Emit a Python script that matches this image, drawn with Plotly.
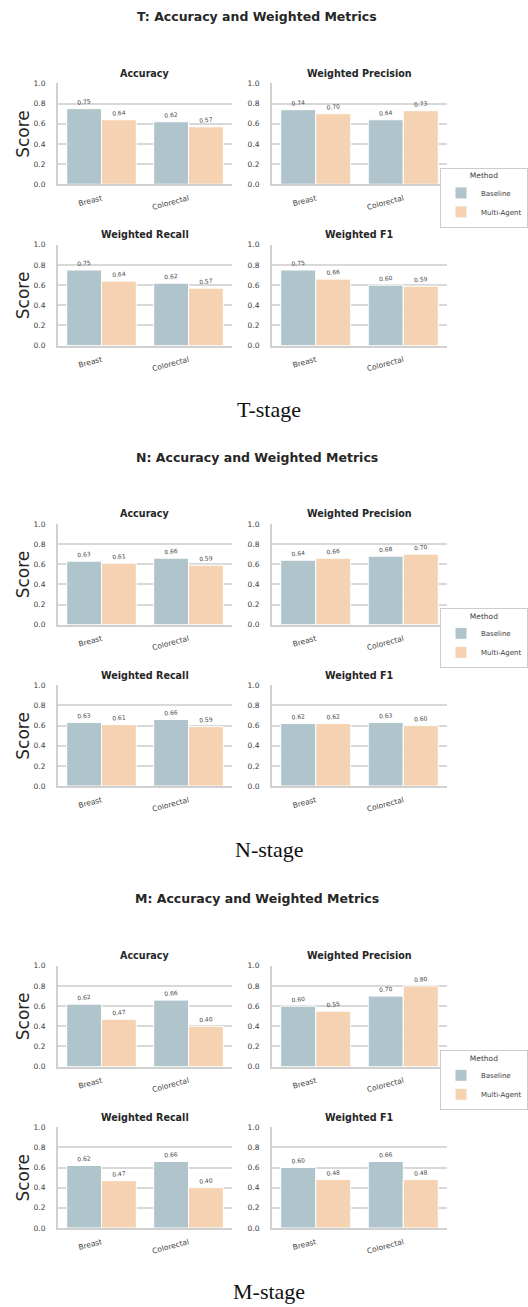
import plotly.graph_objects as go

# ---------------- data ----------------
stages = ["T", "N", "M"]
stage_labels = ["T-stage", "N-stage", "M-stage"]
metrics = ["Accuracy", "Weighted Precision", "Weighted Recall", "Weighted F1"]
cancers = ["Breast", "Colorectal"]
methods = ["Baseline", "Multi-Agent"]

# values per metric (Accuracy, W-Precision, W-Recall, W-F1), each [Breast, Colorectal]
T_baseline = [[0.75, 0.62], [0.74, 0.64], [0.75, 0.62], [0.75, 0.60]]
T_multi = [[0.64, 0.57], [0.70, 0.73], [0.64, 0.57], [0.66, 0.59]]
N_baseline = [[0.63, 0.66], [0.64, 0.68], [0.63, 0.66], [0.62, 0.63]]
N_multi = [[0.61, 0.59], [0.66, 0.70], [0.61, 0.59], [0.62, 0.60]]
M_baseline = [[0.62, 0.66], [0.60, 0.70], [0.62, 0.66], [0.60, 0.66]]
M_multi = [[0.47, 0.40], [0.55, 0.80], [0.47, 0.40], [0.48, 0.48]]

y_ticks = [0.0, 0.2, 0.4, 0.6, 0.8, 1.0]

# ---------------- styling ----------------
W, H = 528, 1307
colors = {"Baseline": "#B0C4CB", "Multi-Agent": "#F5D2B2"}
SANS = "DejaVu Sans"
TXT = "#3c3c3c"
GRID = "#d8d8d8"
AXLINE = "#d0d0d0"

section_offset = [0, 443.5, 888.5]
row_top = [80, 242.5]
plot_h = 101.5
col_x = [(58, 232), (272, 447)]

data_by_stage = {
    "T": (T_baseline, T_multi),
    "N": (N_baseline, N_multi),
    "M": (M_baseline, M_multi),
}

fig = go.Figure()
layout = {}
annotations = []

for s, stage in enumerate(stages):
    base, multi = data_by_stage[stage]
    off = section_offset[s]
    legend_name = "legend" if s == 0 else f"legend{s + 1}"
    for m, metric in enumerate(metrics):
        r, c = divmod(m, 2)
        idx = s * 4 + m + 1
        xa = "x" if idx == 1 else f"x{idx}"
        ya = "y" if idx == 1 else f"y{idx}"
        for meth, vals in zip(methods, (base[m], multi[m])):
            fig.add_trace(go.Bar(
                x=cancers, y=vals, name=meth,
                xaxis=xa, yaxis=ya,
                marker=dict(color=colors[meth], line=dict(color="white", width=1)),
                texttemplate="%{y:.2f}", textposition="outside",
                textangle=-5,
                textfont=dict(family=SANS, size=6, color="#444444"),
                outsidetextfont=dict(family=SANS, size=6, color="#444444"),
                cliponaxis=False,
                legend=legend_name,
                legendgroup=f"{stage}-{meth}",
                showlegend=(m == 0),
                hoverinfo="skip",
            ))
        top = off + row_top[r]
        bot = top + plot_h
        x0, x1 = col_x[c]
        layout["xaxis" if idx == 1 else f"xaxis{idx}"] = dict(
            domain=[x0 / W, x1 / W], anchor=ya,
            range=[-0.5, 1.5], showgrid=False,
            showline=True, linecolor=AXLINE, linewidth=2,
            ticks="", tickangle=-15, ticklabelstandoff=5,
            tickfont=dict(family=SANS, size=7.5, color=TXT),
            fixedrange=True,
        )
        layout["yaxis" if idx == 1 else f"yaxis{idx}"] = dict(
            domain=[1 - bot / H, 1 - top / H], anchor=xa,
            range=[0, 1.0], tickvals=y_ticks, tickformat=".1f",
            showgrid=True, gridcolor=GRID, gridwidth=1.5,
            showline=True, linecolor=AXLINE, linewidth=2,
            zeroline=False, ticks="", ticklabelstandoff=9,
            tickfont=dict(family=SANS, size=7.5, color=TXT),
            fixedrange=True,
        )
        # panel title
        annotations.append(dict(
            text=f"<b>{metric}</b>", xref="paper", yref="paper",
            x=((x0 + x1) / 2) / W, y=1 - (top - 10) / H,
            xanchor="center", yanchor="middle", showarrow=False,
            font=dict(family=SANS, size=9.6, color="#262626"),
        ))
        if c == 0:
            annotations.append(dict(
                text="Score", xref="paper", yref="paper",
                x=23 / W, y=1 - ((top + bot) / 2) / H,
                xanchor="center", yanchor="middle", showarrow=False,
                textangle=-90,
                font=dict(family=SANS, size=17, color="#262626"),
            ))
    # section title
    annotations.append(dict(
        text=f"<b>{stage}: Accuracy and Weighted Metrics</b>",
        xref="paper", yref="paper", x=256.5 / W, y=1 - (off + 12.7) / H,
        xanchor="center", yanchor="middle", showarrow=False,
        font=dict(family=SANS, size=12.5, color="#262626"),
    ))
    # stage caption
    annotations.append(dict(
        text=stage_labels[s], xref="paper", yref="paper",
        x=268.5 / W, y=1 - (off + 408) / H,
        xanchor="center", yanchor="middle", showarrow=False,
        font=dict(family="Liberation Serif", size=22, color="#111111"),
    ))
    # legend
    layout[legend_name] = dict(
        x=1.0, y=1 - (off + 195) / H, xanchor="right", yanchor="middle",
        xref="paper", yref="paper",
        bgcolor="white", bordercolor="#cccccc", borderwidth=1,
        title=dict(text="Method", side="top center",
                   font=dict(family=SANS, size=7.5, color=TXT)),
        font=dict(family=SANS, size=7, color=TXT),
        itemwidth=30, tracegroupgap=0,
    )

fig.update_layout(
    width=W, height=H,
    margin=dict(l=0, r=0, t=0, b=0),
    paper_bgcolor="white", plot_bgcolor="white",
    barmode="group", bargap=0.2, bargroupgap=0,
    annotations=annotations,
    **layout,
)

fig.write_html(
    "out.html",
    config={"displayModeBar": False},
    post_script="document.body.style.margin='0';",
)
